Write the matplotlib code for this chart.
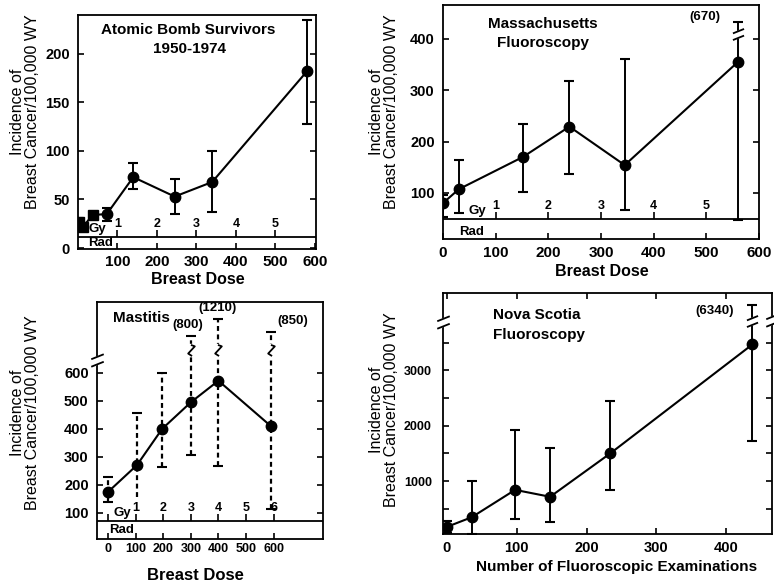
import numpy as np
import matplotlib
matplotlib.use("Agg")
import matplotlib.pyplot as plt
from matplotlib.path import Path

plt.rcParams['font.family'] = ['Liberation Sans', 'DejaVu Sans']
plt.rcParams['font.weight'] = 'bold'

# ---------------- data ----------------
# Atomic Bomb Survivors 1950-1974
ab_dose = [3, 13, 37, 73, 140, 245, 340, 580]
ab_inc = [27, 22, 34, 35, 73, 53, 68, 182]
ab_lo = [22, 18, 31, 28, 61, 35, 37, 128]
ab_hi = [31, 26, 37, 41, 88, 71, 100, 235]
ab_mark = ['s', 's', 's', 'o', 'o', 'o', 'o', 'o']
ab_yticks = [0, 50, 100, 150, 200]
ab_xticks = [100, 200, 300, 400, 500, 600]
ab_gy = [1, 2, 3, 4, 5]

# Massachusetts Fluoroscopy
ma_dose = [0, 30, 152, 240, 345, 560]
ma_inc = [80, 107, 170, 229, 154, 355]
ma_lo = [53, 60, 101, 136, 66, 48]
ma_hi = [95, 163, 235, 318, 361, 670]
ma_yticks = [100, 200, 300, 400]
ma_xticks = [0, 100, 200, 300, 400, 500, 600]
ma_gy = [1, 2, 3, 4, 5]

# Mastitis
ms_dose = [0, 105, 196, 300, 400, 590]
ms_inc = [175, 271, 400, 495, 572, 410]
ms_lo = [139, 157, 264, 307, 268, 115]
ms_hi = [229, 457, 600, 800, 1210, 850]
ms_lo_cap = [True, False, True, True, True, True]
ms_yticks = [100, 200, 300, 400, 500, 600]
ms_xticks = [0, 100, 200, 300, 400, 500, 600]
ms_gy = [1, 2, 3, 4, 5, 6]

# Nova Scotia Fluoroscopy
ns_exams = [0, 36, 98, 148, 234, 437]
ns_inc = [168, 345, 840, 715, 1500, 3470]
ns_lo = [60, 40, 310, 265, 840, 1720]
ns_hi = [280, 1005, 1920, 1595, 2450, 6340]
ns_yticks = [1000, 2000, 3000]
ns_xticks = [0, 100, 200, 300, 400]

RAD_PER_GY = 100

# ---------------- helpers ----------------
W, H = 774, 587
fig = plt.figure(figsize=(W / 100, H / 100), dpi=100)


def box(l, t, r, b):
    return [l / W, 1 - b / H, (r - l) / W, (b - t) / H]


def fx(x):
    return x / W


def fy(y):
    return 1 - y / H


SLASH = Path([(-1, -1.0), (1, -0.2), (-1, 0.2), (1, 1.0)],
             [Path.MOVETO, Path.LINETO, Path.MOVETO, Path.LINETO])
GAP = Path([(-1, -1.0), (1, -0.2), (1, 1.0), (-1, 0.2), (-1, -1.0)],
           [Path.MOVETO, Path.LINETO, Path.LINETO, Path.LINETO, Path.CLOSEPOLY])
ZIG = Path([(-0.1, 1.0), (0.6, 0.75), (-0.6, -0.55), (0.1, -1.0)],
           [Path.MOVETO, Path.LINETO, Path.LINETO, Path.LINETO])
ZGAP = Path([(-0.7, 0.9), (0.7, 0.9), (0.7, -0.9), (-0.7, -0.9), (-0.7, 0.9)],
            [Path.MOVETO, Path.LINETO, Path.LINETO, Path.LINETO, Path.CLOSEPOLY])

LW = 1.5


def brk_mark(ax, x, y, kind=SLASH, gap=GAP, ms=9, transform=None, clip=False):
    kw = {} if transform is None else {'transform': transform}
    ax.plot([x], [y], marker=gap, ms=ms, mfc='white', mec='white', mew=1.0,
            ls='none', zorder=5, clip_on=clip, **kw)
    ax.plot([x], [y], marker=kind, ms=ms, mfc='none', mec='k', mew=1.3,
            ls='none', zorder=6, clip_on=clip, **kw)


def err(ax, x, lo, hi, dashed=False, cap_lo=True, brk=None, cap_w=7, kind=SLASH, gap=GAP):
    ls = (0, (2.2, 1.6)) if dashed else '-'
    ax.plot([x, x], [lo, hi], color='k', lw=1.4 if not dashed else 1.6, ls=ls,
            zorder=2, solid_capstyle='butt', dash_capstyle='butt')
    ax.plot([x], [hi], marker='_', ms=cap_w, mew=1.5, color='k', zorder=3)
    if cap_lo:
        ax.plot([x], [lo], marker='_', ms=cap_w, mew=1.5, color='k', zorder=3)
    if brk is not None:
        brk_mark(ax, x, brk, kind=kind, gap=gap, ms=8, clip=True)


def gy_band(ax, band_y, gy_vals, gy_ticks, gy_lab_x, rad_lab_x, rad_lab_y, fs=9):
    ax.axhline(band_y, color='k', lw=1.3, zorder=1)
    xs = [g * RAD_PER_GY for g in gy_ticks]
    ax.plot(xs, [band_y] * len(xs), ls='none', marker=2, ms=5, mew=1.2, color='k')
    for g in gy_vals:
        ax.annotate(str(g), (g * RAD_PER_GY, band_y), xytext=(0, 5), textcoords='offset points',
                    ha='center', va='bottom', fontsize=fs, fontweight='bold')
    ax.annotate('Gy', (gy_lab_x, band_y), xytext=(0, 1.5), textcoords='offset points',
                ha='center', va='bottom', fontsize=fs + 0.5, fontweight='bold')
    ax.text(rad_lab_x, rad_lab_y, 'Rad', ha='center', va='center', fontsize=fs + 0.5,
            fontweight='bold')


def style(ax, ylsize=10.5, xlsize=11.5, ypad=6, xpad=6):
    for s in ax.spines.values():
        s.set_linewidth(1.3)
    ax.tick_params(direction='in', length=4, width=1.2, top=False, right=True)
    ax.tick_params(axis='y', labelsize=ylsize, pad=ypad)
    ax.tick_params(axis='x', labelsize=xlsize, pad=xpad)


def ylabel(x, y):
    fig.text(fx(x), fy(y), 'Incidence of\nBreast Cancer/100,000 WY', rotation=90,
             ha='center', va='center', multialignment='center', fontsize=11.5,
             fontweight='normal', linespacing=0.95)


# ---------------- Panel 1: Atomic bomb ----------------
ax1 = fig.add_axes(box(78, 15, 316, 249))
ax1.set_xlim(0, 603)
ax1.set_ylim(-1, 240)
style(ax1, xlsize=11, xpad=4)
ax1.set_yticks(ab_yticks)
ax1.set_xticks(ab_xticks)
gy_band(ax1, 11.5, ab_gy, ab_gy, 48, 57, 5)
ax1.plot(ab_dose, ab_inc, color='k', lw=LW, zorder=3)
for x, y, lo, hi, m in zip(ab_dose, ab_inc, ab_lo, ab_hi, ab_mark):
    err(ax1, x, lo, hi, cap_w=6 if m == 's' else 7)
    ax1.plot([x], [y], marker=m, ms=7.5 if m == 'o' else 6.5, color='k', zorder=4)
fig.text(fx(188), fy(30), 'Atomic Bomb Survivors', ha='center', va='center', fontsize=11)
fig.text(fx(190), fy(49), '1950-1974', ha='center', va='center', fontsize=11)
fig.text(fx(198), fy(280), 'Breast Dose', ha='center', va='center', fontsize=11.5)
ylabel(25, 112)

# ---------------- Panel 2: Massachusetts ----------------
ax2 = fig.add_axes(box(443, 5, 759, 239))
ax2.set_xlim(0, 600)
ax2.set_ylim(10, 466)
style(ax2, xlsize=11, xpad=5)
ax2.set_yticks(ma_yticks)
ax2.set_xticks(ma_xticks)
gy_band(ax2, 49, ma_gy, [0] + ma_gy, 66, 54, 24)
ax2.plot(ma_dose, ma_inc, color='k', lw=LW, zorder=3)
ma_ylim = ax2.get_ylim()[1]
for x, y, lo, hi in zip(ma_dose, ma_inc, ma_lo, ma_hi):
    if hi > ma_ylim:
        err(ax2, x, lo, 432, brk=410)
        ax2.annotate('(%d)' % hi, (x, 432), xytext=(-24, 4), textcoords='offset points',
                     ha='center', va='center', fontsize=9.5)
    else:
        err(ax2, x, lo, hi)
    ax2.plot([x], [y], marker='o', ms=7.5, color='k', zorder=4)
fig.text(fx(543), fy(24), 'Massachusetts', ha='center', va='center', fontsize=11)
fig.text(fx(543), fy(43), 'Fluoroscopy', ha='center', va='center', fontsize=11)
fig.text(fx(602), fy(271), 'Breast Dose', ha='center', va='center', fontsize=11.5)
ylabel(384, 112)

# ---------------- Panel 3: Mastitis ----------------
ax3 = fig.add_axes(box(97, 302, 323, 539))
ax3.set_xlim(-40, 779)
ax3.set_ylim(7, 853)
style(ax3, xlsize=9, xpad=3)
ax3.set_yticks(ms_yticks)
ax3.set_xticks(ms_xticks)
gy_band(ax3, 71, ms_gy, [0] + ms_gy, 52, 50, 39)
ms_break = 664


def ms_disp(v):
    # compressed display of off-scale values above the axis break
    return ms_break + 52 * np.log(1 + (v - ms_break) / 50.0)


ax3.plot(ms_dose, ms_inc, color='k', lw=LW, zorder=3)
ms_lab_dx = {800: -2, 1210: -1, 850: 16}
for x, y, lo, hi, cl in zip(ms_dose, ms_inc, ms_lo, ms_hi, ms_lo_cap):
    if hi > 640:
        top = ms_disp(hi)
        err(ax3, x, lo, top, dashed=True, cap_lo=cl, brk=ms_break + 18, kind=ZIG, gap=ZGAP)
        ax3.annotate('(%d)' % hi, (x, top), xytext=(ms_lab_dx.get(hi, 0), 8),
                     textcoords='offset points', ha='center', va='center', fontsize=9.5)
    else:
        err(ax3, x, lo, hi, dashed=True, cap_lo=cl)
    ax3.plot([x], [y], marker='o', ms=7.5, color='k', zorder=4)
brk_mark(ax3, 0, 646, transform=ax3.get_yaxis_transform(), ms=9)
fig.text(fx(113), fy(318), 'Mastitis', ha='left', va='center', fontsize=11)
fig.text(fx(195), fy(575), 'Breast Dose', ha='center', va='center', fontsize=12)
ylabel(25, 413)

# ---------------- Panel 4: Nova Scotia ----------------
ax4 = fig.add_axes(box(443, 293, 772, 534))
ax4.set_xlim(-5, 465)
ax4.set_ylim(42, 4400)
style(ax4, ylsize=9, xlsize=10.5, ypad=8, xpad=5)
ax4.tick_params(top=True)
ax4.set_yticks(ns_yticks)
ax4.set_yticks(np.arange(500, 4000, 500), minor=True)
ax4.tick_params(which='minor', direction='in', length=4, width=1.2, right=True)
ax4.set_xticks(ns_xticks)
ax4.plot(ns_exams, ns_inc, color='k', lw=LW, zorder=3)
ns_ylim = 3900
for x, y, lo, hi in zip(ns_exams, ns_inc, ns_lo, ns_hi):
    if hi > ns_ylim:
        err(ax4, x, lo, 4180, brk=3900)
        ax4.annotate('(%d)' % hi, (x, 4180), xytext=(-27, -4), textcoords='offset points',
                     ha='center', va='center', fontsize=9.5)
    else:
        err(ax4, x, lo, hi)
    ax4.plot([x], [y], marker='o', ms=7.5, color='k', zorder=4)
brk_mark(ax4, 0, 3870, transform=ax4.get_yaxis_transform(), ms=9)
brk_mark(ax4, 1, 3920, transform=ax4.get_yaxis_transform(), ms=9)
fig.text(fx(493), fy(315), 'Nova Scotia', ha='left', va='center', fontsize=11)
fig.text(fx(493), fy(335), 'Fluoroscopy', ha='left', va='center', fontsize=11)
fig.text(fx(617), fy(567), 'Number of Fluoroscopic Examinations', ha='center', va='center',
         fontsize=11)
ylabel(384, 410)

fig.savefig('out.png', dpi=100)
